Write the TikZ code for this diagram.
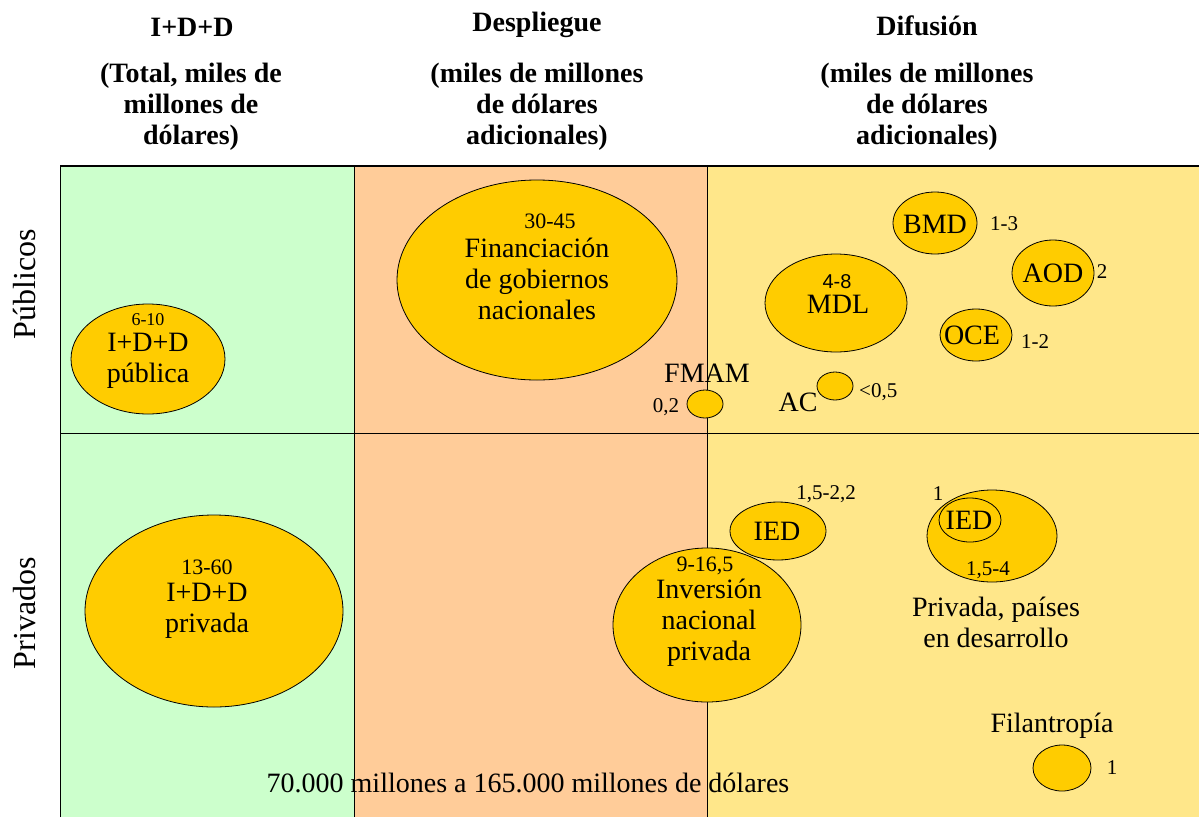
\documentclass[tikz,border=0pt]{standalone}
\usepackage{fontspec}
\setmainfont{Liberation Serif}
\newfontfamily\arialfont{Liberation Sans}
\definecolor{idgreen}{HTML}{CCFFCC}
\definecolor{desorange}{HTML}{FFCC99}
\definecolor{difyellow}{HTML}{FFE78A}
\definecolor{gold}{HTML}{FFCC00}
\begin{document}
\begin{tikzpicture}[x=1pt,y=-1pt,
		bub/.style={draw=black,fill=gold,line width=0.8pt},
		lbl/.style={font=\fontsize{28}{31}\selectfont,align=center,inner sep=0pt},
		num/.style={font=\fontsize{21}{23}\selectfont,inner sep=0pt},
		bignum/.style={font=\fontsize{22}{24}\selectfont,inner sep=0pt},
		head/.style={font=\fontsize{28}{31}\selectfont\bfseries,align=center,inner sep=0pt},
		side/.style={font=\fontsize{32}{36}\selectfont,rotate=90,inner sep=0pt}]
		\useasboundingbox (0,0) rectangle (1199,817);
		% columns
		\fill[idgreen] (60,166) rectangle (354,817);
		\fill[desorange] (354,166) rectangle (707,817);
		\fill[difyellow] (707,166) rectangle (1199,817);
		\draw[line width=0.8pt] (60,817) -- (60,166);
		\draw[line width=1.5pt] (60,166) -- (1199,166);
		\foreach \col in {354,707} \draw[line width=0.8pt] (\col,166) -- (\col,817);
		\draw[line width=0.8pt] (60,433) -- (1199,433);
		% headings
		\node[head] (h1) at (192,27) {I+D+D};
		\node[head] (h1sub) at (191,107) {(Total, miles de\\millones de\\dólares)};
		\node[head] (h2) at (537,25) {Despliegue};
		\node[head] (h2sub) at (537,107) {(miles de millones\\de dólares\\adicionales)};
		\node[head] (h3) at (927,26) {Difusión};
		\node[head] (h3sub) at (927,107) {(miles de millones\\de dólares\\adicionales)};
		\node[side] (pub) at (25,284) {Públicos};
		\node[side] (priv) at (25,613) {Privados};
		% ellipses
		\draw[bub] (148,359) ellipse (77 and 55);
		\draw[bub] (214,611) ellipse (129 and 96);
		\draw[bub] (537,280) ellipse (140 and 100);
		\draw[bub] (707,625) ellipse (94 and 77);
		\draw[bub] (705,404) ellipse (18 and 14);
		\draw[bub] (835,386) ellipse (18 and 14);
		\draw[bub] (836,303) ellipse (71 and 49);
		\draw[bub] (935,223) ellipse (42 and 31);
		\draw[bub] (1053,273) ellipse (41 and 33);
		\draw[bub] (976,335) ellipse (36 and 26);
		\draw[bub] (778,531) ellipse (48 and 29);
		\draw[bub] (992,536) ellipse (65 and 46);
		\draw[bub] (970,520) ellipse (31 and 22);
		\draw[bub] (1062,768) ellipse (29 and 23);
		% labels
		\node[num,font=\fontsize{18}{20}\selectfont] (n610) at (148,320) {6-10};
		\node[lbl] (idpub) at (148,361) {I+D+D\\pública};
		\node[bignum] (n1360) at (207,567) {13-60};
		\node[lbl] (idpriv) at (207,611) {I+D+D\\privada};
		\node[bignum] (n3045) at (550,221) {30-45};
		\node[lbl] (fin) at (537,279) {Financiación\\de gobiernos\\nacionales};
		\node[bignum] (n9165) at (705,566) {9-16,5};
		\node[lbl] (inv) at (709,623) {Inversión\\nacional\\privada};
		\node[lbl] (fmam) at (707,373) {FMAM};
		\node[num] (n02) at (666,407) {0,2};
		\node[lbl] (ac) at (798,402) {AC};
		\node[num,anchor=west] (n05) at (859,392) {<0,5};
		\node[num,font=\arialfont\fontsize{20}{22}\selectfont] (n48) at (837,282) {4-8};
		\node[lbl] (mdl) at (838,304) {MDL};
		\node[lbl] (bmd) at (935,224) {BMD};
		\node[num] (n13) at (1004,224) {1-3};
		\node[lbl] (aod) at (1053,273) {AOD};
		\node[num] (n2) at (1102,272) {2};
		\node[lbl] (oce) at (972,335) {OCE};
		\node[num] (n12) at (1035,342) {1-2};
		\node[lbl] (ied1) at (777,531) {IED};
		\node[num] (n1522) at (826,494) {1,5-2,2};
		\node[lbl] (ied2) at (969,520) {IED};
		\node[num] (n1) at (938,494) {1};
		\node[num] (n154) at (988,570) {1,5-4};
		\node[lbl] (pdev) at (996,622) {Privada, países\\en desarrollo};
		\node[lbl] (fil) at (1052,726) {Filantropía};
		\node[num] (nfil) at (1112,768) {1};
		\node[lbl] (total) at (528,783) {70.000 millones a 165.000 millones de dólares};
	\end{tikzpicture}
\end{document}
